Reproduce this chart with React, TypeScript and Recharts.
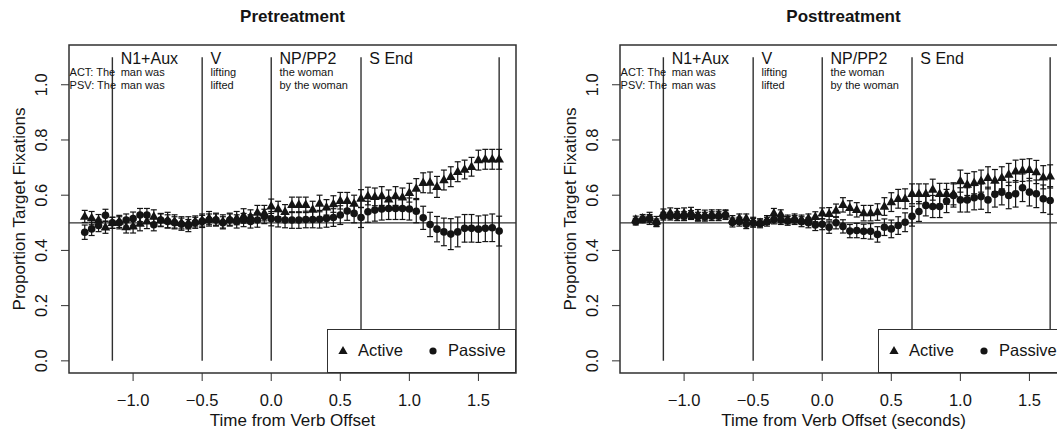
import React from 'react';
import {
  ComposedChart,
  Scatter,
  ErrorBar,
  XAxis,
  YAxis,
  ReferenceLine,
  ReferenceArea,
  ReferenceDot,
  Legend,
} from 'recharts';

const FONT = '"Liberation Sans", Arial, Helvetica, sans-serif';
const INK = '#141414';
const RULE = '#303030';

// time bins (seconds from verb offset)
const timeBins = [
  -1.35, -1.3, -1.25, -1.2, -1.15, -1.1, -1.05, -1.0, -0.95, -0.9,
  -0.85, -0.8, -0.75, -0.7, -0.65, -0.6, -0.55, -0.5, -0.45, -0.4,
  -0.35, -0.3, -0.25, -0.2, -0.15, -0.1, -0.05, 0.0, 0.05, 0.1,
  0.15, 0.2, 0.25, 0.3, 0.35, 0.4, 0.45, 0.5, 0.55, 0.6,
  0.65, 0.7, 0.75, 0.8, 0.85, 0.9, 0.95, 1.0, 1.05, 1.1,
  1.15, 1.2, 1.25, 1.3, 1.35, 1.4, 1.45, 1.5, 1.55, 1.6,
  1.65,
];

const preActive = [
  0.523, 0.517, 0.51, 0.484, 0.5, 0.505, 0.485, 0.487, 0.497, 0.505,
  0.523, 0.51, 0.51, 0.505, 0.5, 0.5, 0.505, 0.51, 0.517, 0.513,
  0.505, 0.513, 0.517, 0.525, 0.523, 0.537, 0.535, 0.56, 0.55, 0.54,
  0.565, 0.565, 0.565, 0.548, 0.57, 0.556, 0.568, 0.58, 0.58, 0.57,
  0.588, 0.597, 0.594, 0.597, 0.585, 0.597, 0.592, 0.609, 0.624, 0.645,
  0.646, 0.63, 0.655, 0.667, 0.685, 0.693, 0.703, 0.727, 0.73, 0.73,
  0.73,
];
const preActiveErr = [
  0.022, 0.024, 0.02, 0.022, 0.02, 0.022, 0.022, 0.024, 0.026, 0.026,
  0.024, 0.024, 0.028, 0.024, 0.022, 0.022, 0.02, 0.022, 0.024, 0.022,
  0.024, 0.022, 0.024, 0.026, 0.024, 0.026, 0.028, 0.026, 0.028, 0.026,
  0.028, 0.028, 0.028, 0.03, 0.03, 0.028, 0.03, 0.03, 0.03, 0.03,
  0.032, 0.032, 0.032, 0.034, 0.034, 0.034, 0.034, 0.034, 0.036, 0.036,
  0.038, 0.038, 0.036, 0.036, 0.036, 0.034, 0.034, 0.036, 0.036, 0.036,
  0.036,
];
const prePassive = [
  0.466, 0.478, 0.49, 0.527, 0.5, 0.5, 0.51, 0.515, 0.528, 0.528,
  0.493, 0.51, 0.505, 0.5, 0.495, 0.49, 0.5, 0.505, 0.51, 0.51,
  0.5, 0.51, 0.505, 0.51, 0.505, 0.51, 0.523, 0.515, 0.513, 0.51,
  0.51, 0.51, 0.512, 0.512, 0.513, 0.516, 0.519, 0.528, 0.543, 0.534,
  0.519, 0.54, 0.546, 0.55, 0.552, 0.552, 0.552, 0.55, 0.542, 0.518,
  0.494, 0.477, 0.467, 0.459, 0.467, 0.48, 0.48, 0.477, 0.48, 0.482,
  0.47,
];
const prePassiveErr = [
  0.026, 0.024, 0.022, 0.022, 0.02, 0.022, 0.022, 0.024, 0.024, 0.024,
  0.022, 0.022, 0.024, 0.022, 0.022, 0.022, 0.02, 0.022, 0.022, 0.022,
  0.022, 0.022, 0.024, 0.024, 0.024, 0.026, 0.026, 0.026, 0.028, 0.028,
  0.03, 0.03, 0.03, 0.03, 0.032, 0.032, 0.032, 0.034, 0.034, 0.034,
  0.036, 0.038, 0.04, 0.04, 0.04, 0.04, 0.04, 0.04, 0.042, 0.042,
  0.044, 0.046, 0.05, 0.056, 0.054, 0.05, 0.05, 0.048, 0.048, 0.05,
  0.054,
];

const postActive = [
  0.512, 0.516, 0.516, 0.505, 0.534, 0.536, 0.534, 0.534, 0.536, 0.528,
  0.528, 0.531, 0.531, 0.531, 0.51, 0.516, 0.516, 0.504, 0.5, 0.51,
  0.534, 0.531, 0.512, 0.516, 0.512, 0.516, 0.522, 0.534, 0.533, 0.544,
  0.565, 0.554, 0.547, 0.535, 0.535, 0.539, 0.559, 0.575, 0.587, 0.587,
  0.605, 0.605, 0.605, 0.62, 0.605, 0.605, 0.605, 0.651, 0.639, 0.645,
  0.651, 0.663, 0.653, 0.663, 0.675, 0.687, 0.69, 0.692, 0.684, 0.665,
  0.668,
];
const postActiveErr = [
  0.012, 0.014, 0.022, 0.018, 0.016, 0.018, 0.018, 0.02, 0.02, 0.02,
  0.018, 0.016, 0.016, 0.016, 0.016, 0.016, 0.016, 0.016, 0.014, 0.016,
  0.018, 0.016, 0.016, 0.016, 0.016, 0.016, 0.018, 0.02, 0.022, 0.024,
  0.026, 0.026, 0.026, 0.028, 0.028, 0.03, 0.032, 0.034, 0.034, 0.036,
  0.036, 0.036, 0.036, 0.038, 0.038, 0.038, 0.04, 0.04, 0.04, 0.04,
  0.04, 0.04, 0.04, 0.04, 0.04, 0.04, 0.04, 0.04, 0.042, 0.042,
  0.042,
];
const postPassive = [
  0.504, 0.512, 0.516, 0.5, 0.524, 0.524, 0.524, 0.524, 0.528, 0.522,
  0.522, 0.524, 0.524, 0.528, 0.501, 0.504, 0.495, 0.5, 0.498, 0.504,
  0.512, 0.51, 0.507, 0.51, 0.504, 0.5, 0.492, 0.495, 0.484, 0.5,
  0.487, 0.47, 0.472, 0.469, 0.469, 0.458, 0.484, 0.478, 0.49, 0.502,
  0.524, 0.541, 0.563, 0.559, 0.559, 0.579, 0.599, 0.583, 0.583, 0.591,
  0.595, 0.583, 0.603, 0.611, 0.599, 0.605, 0.627, 0.611, 0.605, 0.587,
  0.581,
];
const postPassiveErr = [
  0.012, 0.012, 0.014, 0.014, 0.014, 0.014, 0.016, 0.016, 0.016, 0.016,
  0.016, 0.016, 0.016, 0.016, 0.016, 0.016, 0.016, 0.016, 0.016, 0.016,
  0.016, 0.016, 0.016, 0.016, 0.018, 0.018, 0.02, 0.02, 0.022, 0.022,
  0.024, 0.024, 0.026, 0.026, 0.028, 0.028, 0.03, 0.032, 0.032, 0.034,
  0.036, 0.036, 0.038, 0.04, 0.04, 0.042, 0.042, 0.044, 0.044, 0.044,
  0.046, 0.046, 0.046, 0.046, 0.048, 0.048, 0.05, 0.05, 0.05, 0.05,
  0.05,
];

// region boundaries and labels
const regionLines = [-1.15, -0.5, 0, 0.65, 1.65];
const regionHeads = ['N1+Aux', 'V', 'NP/PP2', 'S End'];
const regionHeadX = [-1.09, -0.44, 0.06, 0.71];
const actWords = ['ACT: The', 'man was', 'lifting', 'the woman'];
const psvWords = ['PSV: The', 'man was', 'lifted', 'by the woman'];
const wordX = [-1.46, -1.09, -0.44, 0.06];

const X_DOMAIN = [-1.464, 1.772];
const Y_DOMAIN = [-0.044, 1.144];
const X_TICKS = [-1.0, -0.5, 0.0, 0.5, 1.0, 1.5];
const Y_TICKS = [0, 0.2, 0.4, 0.6, 0.8, 1.0];

const rows = (ys: number[], errs: number[]) =>
  timeBins.map((t, i) => ({ x: t, y: ys[i], err: errs[i] }));

const fmtX = (v: number) => (v < 0 ? '\u2212' : '') + Math.abs(v).toFixed(1);

const Triangle = (p: any) => (
  <polygon
    points={`${p.cx},${p.cy - 5.3} ${p.cx - 4.8},${p.cy + 3.2} ${p.cx + 4.8},${p.cy + 3.2}`}
    fill={INK}
  />
);
const Dot = (p: any) => <circle cx={p.cx} cy={p.cy} r={3.8} fill={INK} />;

const YTick = ({ x, y, payload }: any) => (
  <text
    x={x}
    y={y}
    transform={`rotate(-90 ${x} ${y})`}
    textAnchor="middle"
    dominantBaseline="central"
    fontSize={16.5}
    fontFamily={FONT}
    fill={INK}
  >
    {Number(payload.value).toFixed(1)}
  </text>
);

const YLabel = () => (
  <text
    x={19}
    y={209}
    transform="rotate(-90 19 209)"
    textAnchor="middle"
    dominantBaseline="central"
    fontSize={17}
    fontFamily={FONT}
    fill={INK}
  >
    Proportion Target Fixations
  </text>
);

const textAt = (text: string, size: number) => (p: any) => (
  <text x={p.cx} y={p.cy} fontSize={size} fontFamily={FONT} fill={INK}>
    {text}
  </text>
);

const LegendBox = ({ payload }: any) => (
  <div
    style={{
      position: 'relative',
      width: 189,
      height: 44,
      boxSizing: 'border-box',
      border: `1.4px solid ${RULE}`,
      background: '#fff',
      fontFamily: FONT,
      fontSize: 16.5,
      color: INK,
    }}
  >
    {(payload || []).map((item: any, i: number) => (
      <div key={item.value} style={{ position: 'absolute', left: i === 0 ? 8 : 98, top: 11, display: 'flex', alignItems: 'center' }}>
        <svg width={14} height={14} style={{ marginRight: 8 }}>
          {item.value === 'Active' ? (
            <polygon points="7,2 2.4,10 11.6,10" fill={INK} />
          ) : (
            <circle cx={7} cy={7} r={3.6} fill={INK} />
          )}
        </svg>
        <span>{item.value}</span>
      </div>
    ))}
  </div>
);

function Panel({ title, xLabel, active, passive }: any) {
  return (
    <div style={{ position: 'relative', width: 551, height: 431 }}>
      <div
        style={{
          position: 'absolute',
          left: 69,
          width: 447,
          top: 7,
          textAlign: 'center',
          fontFamily: FONT,
          fontWeight: 'bold',
          fontSize: 17,
          color: INK,
        }}
      >
        {title}
      </div>
      <ComposedChart width={551} height={431} margin={{ top: 45, right: 35, bottom: 0, left: 0 }}>
        <XAxis
          type="number"
          dataKey="x"
          domain={X_DOMAIN}
          ticks={X_TICKS}
          allowDataOverflow
          axisLine={false}
          tickSize={8}
          tickMargin={13}
          height={58}
          tickFormatter={fmtX}
          tick={{ fontSize: 16.5, fontFamily: FONT, fill: INK }}
          tickLine={{ stroke: RULE }}
          label={{ value: xLabel, position: 'insideBottom', offset: 5, fontSize: 17, fontFamily: FONT, fill: INK }}
        />
        <YAxis
          type="number"
          dataKey="y"
          domain={Y_DOMAIN}
          ticks={Y_TICKS}
          allowDataOverflow
          axisLine={false}
          tickSize={8}
          tickMargin={20}
          width={69}
          tick={(p: any) => <YTick {...p} />}
          tickLine={{ stroke: RULE }}
          label={<YLabel />}
        />
        <ReferenceArea
          x1={X_DOMAIN[0]}
          x2={X_DOMAIN[1]}
          y1={Y_DOMAIN[0]}
          y2={Y_DOMAIN[1]}
          fill="none"
          stroke={RULE}
          strokeWidth={1.5}
          ifOverflow="visible"
        />
        <ReferenceLine y={0.5} stroke={RULE} strokeWidth={1.3} />
        {regionLines.map((x) => (
          <ReferenceLine
            key={`l${x}`}
            segment={[{ x, y: 0 }, { x, y: 1.1 }]}
            stroke={RULE}
            strokeWidth={1.4}
          />
        ))}
        {regionHeads.map((t, i) => (
          <ReferenceDot key={t} x={regionHeadX[i]} y={1.076} r={0} ifOverflow="visible" shape={textAt(t, 16)} />
        ))}
        {actWords.map((t, i) => (
          <ReferenceDot key={`a${i}`} x={wordX[i]} y={1.032} r={0} ifOverflow="visible" shape={textAt(t, 11)} />
        ))}
        {psvWords.map((t, i) => (
          <ReferenceDot key={`p${i}`} x={wordX[i]} y={0.985} r={0} ifOverflow="visible" shape={textAt(t, 11)} />
        ))}
        <Scatter name="Active" data={active} shape={Triangle} fill={INK} isAnimationActive={false}>
          <ErrorBar dataKey="err" direction="y" width={3} stroke={INK} strokeWidth={1.2} />
        </Scatter>
        <Scatter name="Passive" data={passive} shape={Dot} fill={INK} isAnimationActive={false}>
          <ErrorBar dataKey="err" direction="y" width={3} stroke={INK} strokeWidth={1.2} />
        </Scatter>
        <Legend
          layout="horizontal"
          verticalAlign="middle"
          align="center"
          content={LegendBox}
          wrapperStyle={{ left: 327, top: 329, width: 189, height: 44 }}
        />
      </ComposedChart>
    </div>
  );
}

export default function App() {
  return (
    <div
      style={{
        position: 'absolute',
        left: 0,
        top: 0,
        width: 1057,
        height: 431,
        overflow: 'hidden',
        background: '#fff',
      }}
    >
      <div style={{ position: 'absolute', left: 0, top: 0 }}>
        <Panel
          title="Pretreatment"
          xLabel="Time from Verb Offset"
          active={rows(preActive, preActiveErr)}
          passive={rows(prePassive, prePassiveErr)}
        />
      </div>
      <div style={{ position: 'absolute', left: 551, top: 0 }}>
        <Panel
          title="Posttreatment"
          xLabel="Time from Verb Offset (seconds)"
          active={rows(postActive, postActiveErr)}
          passive={rows(postPassive, postPassiveErr)}
        />
      </div>
    </div>
  );
}
